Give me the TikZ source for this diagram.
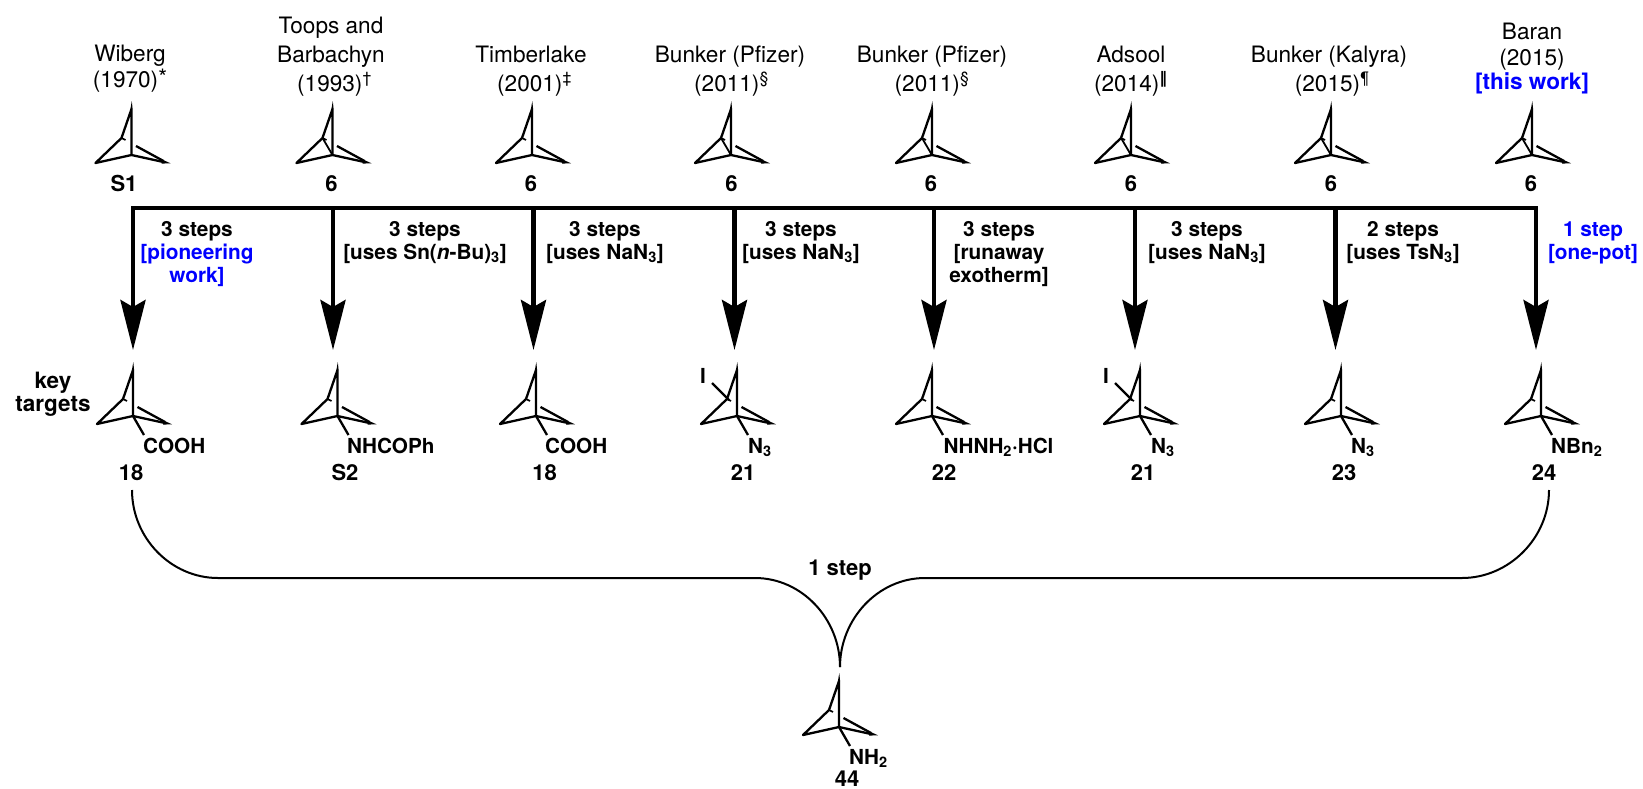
\documentclass[tikz,border=0pt]{standalone}
\usepackage{fontspec}
\setmainfont{TeX Gyre Heros}
\newfontfamily\barfont{DejaVu Sans}
\usepackage{xcolor}
\usetikzlibrary{arrows.meta}

\definecolor{workblue}{RGB}{0,0,255}

\tikzset{
  cage/.pic={
    \draw[line width=2.3pt, line join=round] (0,-46) -- (0,0) -- (-36,8) -- (-10,-17) -- (0,-46);
    \draw[line width=2.3pt] (0,0) -- (32,7);
    \draw[line width=2.3pt] (4.5,-9) -- (32,6);
    \draw[line width=1.6pt] (-10,-17) -- (-6,-15);
    \fill (-1.1,-46) -- (0.3,-54) -- (1.1,-46) -- cycle;
    \fill (30,4.2) -- (39,8.3) -- (30,8.6) -- cycle;
  },
  rearbond/.pic={\draw[line width=1.8pt] (-10,-17) -- (0,0);},
  subbond/.pic={\draw[line width=2.3pt] (0,0) -- (11,19);},
  iodobond/.pic={\draw[line width=2.3pt] (-8,-16) -- (-25,-33);}
}

\begin{document}
\begin{tikzpicture}[
  x=1pt,y=-1pt,
  author/.style={font=\fontsize{22.6}{29}\selectfont, align=center, anchor=base, inner sep=0pt},
  cmpd/.style={font=\fontsize{22}{23}\selectfont\bfseries, anchor=base, inner sep=0pt},
  subst/.style={font=\fontsize{20.7}{23}\selectfont\bfseries, anchor=base west, inner sep=0pt},
  cond/.style={font=\fontsize{20.8}{23}\selectfont\bfseries, align=center, anchor=base, inner sep=0pt},
  main/.style={line width=4.4pt},
  branch/.style={line width=4.4pt, -{Stealth[length=50pt,width=25pt,inset=7pt]}},
  curve/.style={line width=2pt}
]
\useasboundingbox (0,0) rectangle (1643,788);

% authors
\node[author] (a1) at (130,87) {Wiberg\\[-3pt](1970)\raisebox{1.5pt}{*}};
\node[author] (a2) at (331,91) {Toops and\\Barbachyn\\\hspace*{7pt}(1993)\textsuperscript{†}};
\node[author] (a3) at (531,91) {Timberlake\\\hspace*{7pt}(2001)\textsuperscript{‡}};
\node[author] (a4) at (730,91) {Bunker (Pfizer)\\\hspace*{3pt}(2011)\textsuperscript{§}};
\node[author] (a5) at (932,91) {Bunker (Pfizer)\\(2011)\textsuperscript{§}};
\node[author] (a6) at (1131,91) {Adsool\\(2014)\textsuperscript{\barfont\bfseries ‖}};
\node[author] (a7) at (1329,91) {Bunker (Kalyra)\\\hspace*{6pt}(2015)\textsuperscript{¶}};
\node[author] (a8) at (1532,89) {Baran\\[-3pt](2015)\\[-5pt]\textcolor{workblue}{\bfseries [this work]}};

% top structures
\foreach \x in {131.5,332.5,532,731,932,1131,1331,1532}
  \pic at (\x,155) {cage};
\foreach \x in {332.5,731,932,1131,1331,1532}
  \pic at (\x,155) {rearbond};

\node[cmpd] (s1) at (124,191) {S1};
\node[cmpd] (s2) at (331.5,191) {6};
\node[cmpd] (s3) at (531,191) {6};
\node[cmpd] (s4) at (731.5,191) {6};
\node[cmpd] (s5) at (931,191) {6};
\node[cmpd] (s6) at (1131,191) {6};
\node[cmpd] (s7) at (1331,191) {6};
\node[cmpd] (s8) at (1531,191) {6};

% bar and arrows
\coordinate (barl) at (131,208);
\coordinate (barr) at (1538,208);
\draw[main] (barl) -- (barr);
\foreach \x [count=\i] in {133,333,533.5,734.5,934,1135,1335.5,1536} {
  \coordinate (top\i) at (\x,208);
  \coordinate (tip\i) at (\x,350);
  \draw[branch] (top\i) -- (tip\i);
}

% conditions
\node[cond] (c1) at (197,282) {3 steps\\\textcolor{workblue}{[pioneering}\\\textcolor{workblue}{work]}};
\node[cond] (c2) at (425,259) {3 steps\\{}[uses Sn(\textit{n}-Bu)\textsubscript{3}]};
\node[cond] (c3) at (605,259) {3 steps\\{}[uses NaN\textsubscript{3}]};
\node[cond] (c4) at (801,259) {3 steps\\{}[uses NaN\textsubscript{3}]};
\node[cond] (c5) at (999,282) {3 steps\\{}[runaway\\exotherm]};
\node[cond] (c6) at (1207,259) {3 steps\\{}[uses NaN\textsubscript{3}]};
\node[cond] (c7) at (1403,259) {2 steps\\{}[uses TsN\textsubscript{3}]};
\node[cond, text=workblue] (c8) at (1593,259) {1 step\\{}[one-pot]};

% key targets
\node[cond, font=\fontsize{22.5}{23}\selectfont\bfseries] (key) at (53,411) {key\\targets};
\foreach \x in {133,337.5,536,737,932,1140,1341,1541} {
  \pic at (\x,416) {cage};
  \pic at (\x,416) {subbond};
}
\pic at (737,416) {iodobond};
\pic at (1140,416) {iodobond};

\node[subst] (i4) at (700,383) {I};
\node[subst] (i6) at (1103,383) {I};
\node[subst] (r1) at (143,453) {COOH};
\node[subst] (r2) at (347,453) {NHCOPh};
\node[subst] (r3) at (545,453) {COOH};
\node[subst] (r4) at (748,453) {N\textsubscript{3}};
\node[subst] (r5) at (943.5,453) {NHNH\textsubscript{2}·HCl};
\node[subst] (r6) at (1151,453) {N\textsubscript{3}};
\node[subst] (r7) at (1351,453) {N\textsubscript{3}};
\node[subst] (r8) at (1551,453) {NBn\textsubscript{2}};

\node[cmpd] (p1) at (131,480) {18};
\node[cmpd] (p2) at (345,480) {S2};
\node[cmpd] (p3) at (544.5,480) {18};
\node[cmpd] (p4) at (743,480) {21};
\node[cmpd] (p5) at (944,480) {22};
\node[cmpd] (p6) at (1143,480) {21};
\node[cmpd] (p7) at (1344,480) {23};
\node[cmpd] (p8) at (1544,480) {24};

% one step brace
\coordinate (bl) at (132,490);
\coordinate (br) at (1549,490);
\coordinate (hl) at (218,578);
\coordinate (hm) at (755,578);
\coordinate (hn) at (925,578);
\coordinate (hr) at (1462,578);
\coordinate (stem) at (840,667);
\draw[curve] (bl) .. controls +(0,48) and +(-47,0) .. (hl) -- (hm) .. controls +(47,0) and +(0,-48) .. (stem);
\draw[curve] (br) .. controls +(0,48) and +(47,0) .. (hr) -- (hn) .. controls +(-47,0) and +(0,-48) .. (stem);
\node[cmpd] (onestep) at (840,575) {1 step};

% product
\pic at (839,727) {cage};
\pic at (839,727) {subbond};
\node[subst] (amine) at (849,764) {NH\textsubscript{2}};
\node[cmpd] (p9) at (847,786.5) {44};
\end{tikzpicture}
\end{document}
